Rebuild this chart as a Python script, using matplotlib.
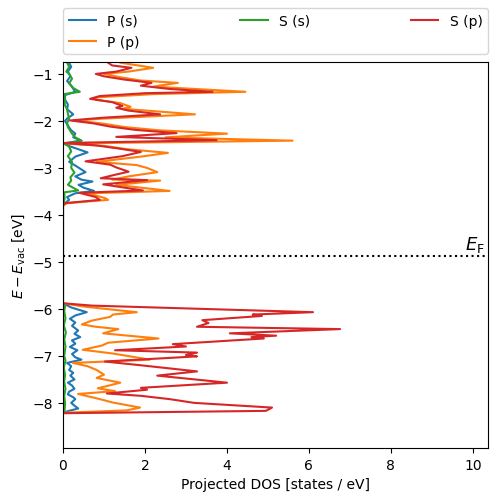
import numpy as np
import matplotlib
matplotlib.use('Agg')
import matplotlib.pyplot as plt

# Fermi level (eV, relative to vacuum)
E_fermi = -4.87

# P (s)
ps_E = [-0.76, -0.85, -0.95, -1.05, -1.15, -1.25, -1.38, -1.45, -1.55, -1.65, -1.75, -1.86, -1.95,
        -2.0, -2.1, -2.2, -2.27, -2.35, -2.42, -2.48, -2.55, -2.67, -2.76, -2.87, -2.95, -3.09,
        -3.18, -3.25, -3.29, -3.36, -3.42, -3.49, -3.54, -3.62, -3.68, -3.75, -3.8,
        -5.88, -5.97, -6.07, -6.14, -6.21, -6.29, -6.36, -6.46, -6.53, -6.6, -6.67, -6.74,
        -6.81, -6.88, -6.96, -7.03, -7.08, -7.15, -7.22, -7.3, -7.36, -7.42, -7.5, -7.57,
        -7.63, -7.7, -7.76, -7.82, -7.88, -7.92, -8.0, -8.06, -8.12, -8.18, -8.22]
ps_dos = [0.15, 0.2, 0.12, 0.18, 0.1, 0.2, 0.3, 0.05, 0.05, 0.12, 0.1, 0.25, 0.1,
          0.05, 0.12, 0.2, 0.3, 0.25, 0.45, 0.0, 0.2, 0.6, 0.3, 0.15, 0.3, 0.55,
          0.3, 0.45, 0.72, 0.38, 0.5, 0.76, 0.3, 0.1, 0.15, 0.05, 0.0,
          0.0, 0.2, 0.58, 0.3, 0.17, 0.3, 0.22, 0.37, 0.28, 0.42, 0.22, 0.3,
          0.17, 0.35, 0.22, 0.3, 0.45, 0.1, 0.2, 0.15, 0.25, 0.18, 0.28, 0.12,
          0.22, 0.28, 0.15, 0.12, 0.25, 0.3, 0.2, 0.28, 0.37, 0.1, 0.0]

# P (p)
pp_E = [-0.76, -0.87, -0.95, -1.0, -1.07, -1.14, -1.19, -1.27, -1.38, -1.43, -1.5, -1.55, -1.62,
        -1.7, -1.74, -1.86, -1.95, -1.99, -2.06, -2.13, -2.2, -2.27, -2.35, -2.42, -2.48, -2.53,
        -2.6, -2.68, -2.76, -2.87, -2.94, -3.0, -3.09, -3.18, -3.25, -3.27, -3.36, -3.49, -3.54,
        -3.64, -3.68, -3.75, -3.8,
        -5.88, -5.95, -6.07, -6.12, -6.17, -6.25, -6.33, -6.38, -6.43, -6.52, -6.63, -6.72,
        -6.78, -6.87, -6.95, -7.08, -7.15, -7.22, -7.3, -7.4, -7.47, -7.57, -7.69, -7.75,
        -7.81, -7.92, -7.99, -8.1, -8.16, -8.21]
pp_dos = [1.4, 2.2, 1.6, 1.0, 1.4, 1.9, 2.8, 2.2, 4.45, 2.2, 0.8, 0.8, 1.4,
          1.65, 1.45, 3.22, 1.0, 0.3, 1.0, 1.5, 2.35, 4.0, 2.5, 5.6, 0.0, 1.0,
          1.55, 2.56, 1.9, 0.82, 1.8, 2.05, 2.3, 1.6, 1.2, 2.37, 1.3, 2.6, 0.6,
          1.02, 1.1, 0.1, 0.0,
          0.0, 0.5, 1.8, 1.22, 1.15, 0.7, 0.46, 0.8, 1.35, 0.98, 2.33, 1.1,
          0.95, 0.48, 1.22, 2.12, 0.24, 0.6, 0.82, 1.0, 0.82, 1.4, 0.85, 1.27,
          0.37, 0.9, 1.2, 1.88, 1.55, 0.0]

# S (s)
ss_E = [-0.76, -0.85, -0.95, -1.0, -1.1, -1.2, -1.3, -1.38, -1.43, -1.55, -1.65, -1.75, -1.85,
        -1.95, -2.05, -2.13, -2.27, -2.35, -2.42, -2.48, -2.55, -2.65, -2.75, -2.87, -3.0,
        -3.1, -3.2, -3.27, -3.36, -3.48, -3.52, -3.65, -3.72, -3.8,
        -5.88, -5.95, -6.05, -6.2, -6.35, -6.5, -6.65, -6.8, -7.0, -7.1, -7.25, -7.4,
        -7.55, -7.7, -7.85, -8.0, -8.15, -8.22]
ss_dos = [0.1, 0.15, 0.08, 0.15, 0.22, 0.15, 0.25, 0.41, 0.02, 0.05, 0.04, 0.1, 0.12,
          0.15, 0.1, 0.12, 0.22, 0.3, 0.45, 0.05, 0.15, 0.2, 0.12, 0.22, 0.2,
          0.28, 0.18, 0.2, 0.12, 0.37, 0.03, 0.04, 0.02, 0.0,
          0.0, 0.05, 0.03, 0.06, 0.02, 0.07, 0.03, 0.06, 0.03, 0.06, 0.02, 0.05,
          0.03, 0.06, 0.03, 0.05, 0.04, 0.0]

# S (p)
sp_E = [-0.76, -0.82, -0.87, -0.95, -1.0, -1.05, -1.12, -1.19, -1.25, -1.32, -1.38, -1.41,
        -1.47, -1.53, -1.6, -1.68, -1.72, -1.78, -1.86, -1.93, -1.99, -2.05, -2.12, -2.19,
        -2.26, -2.34, -2.41, -2.47, -2.52, -2.58, -2.66, -2.75, -2.86, -2.93, -2.99, -3.08,
        -3.16, -3.22, -3.26, -3.35, -3.42, -3.48, -3.53, -3.62, -3.68, -3.75, -3.8,
        -5.88, -5.93, -6.07, -6.12, -6.15, -6.24, -6.3, -6.38, -6.43, -6.52, -6.57, -6.6,
        -6.63, -6.75, -6.8, -6.88, -6.93, -6.98, -7.01, -7.12, -7.2, -7.33, -7.42, -7.57,
        -7.68, -7.72, -7.8, -7.85, -7.92, -8.0, -8.1, -8.17, -8.22]
sp_dos = [1.1, 1.2, 1.67, 1.3, 0.8, 1.0, 1.5, 2.16, 1.9, 2.6, 3.65, 2.0,
          0.9, 0.66, 1.2, 1.45, 1.3, 1.6, 2.37, 1.0, 0.17, 0.73, 1.15, 1.76,
          2.77, 1.3, 3.75, 0.0, 0.8, 1.3, 1.9, 1.45, 0.55, 1.15, 1.3, 1.6,
          1.2, 0.92, 2.05, 0.98, 1.5, 1.95, 0.4, 0.8, 0.9, 0.05, 0.0,
          0.0, 0.7, 6.1, 4.63, 4.85, 3.4, 3.55, 3.27, 6.76, 4.07, 5.2, 4.6,
          4.9, 2.68, 3.0, 1.27, 3.27, 3.0, 3.27, 1.02, 1.9, 3.27, 2.3, 4.0,
          1.9, 2.05, 1.07, 1.9, 2.6, 3.2, 5.1, 4.95, 0.0]

fig = plt.figure(figsize=(4.98, 5.02), dpi=100)
ax = fig.add_axes([0.1265, 0.1056, 0.8535, 0.769])

ax.plot(ps_dos, ps_E, label='P (s)')
ax.plot(pp_dos, pp_E, label='P (p)')
ax.plot(ss_dos, ss_E, label='S (s)')
ax.plot(sp_dos, sp_E, label='S (p)')

ax.axhline(E_fermi, color='black', ls=':')
ax.set_xlim(0, 10.37)
ax.set_ylim(-8.96, -0.745)
ax.text(10.3, E_fermi + 0.03, r'$E_\mathrm{F}$', ha='right', va='bottom', fontsize=13)

ax.set_xlabel('Projected DOS [states / eV]')
ax.set_ylabel(r'$E - E_\mathrm{vac}$ [eV]')
ax.legend(bbox_to_anchor=(0, 1.02, 1, 0.102), loc='lower left', ncol=3,
          mode='expand', borderaxespad=0.)

fig.savefig('out.png', dpi=100)
